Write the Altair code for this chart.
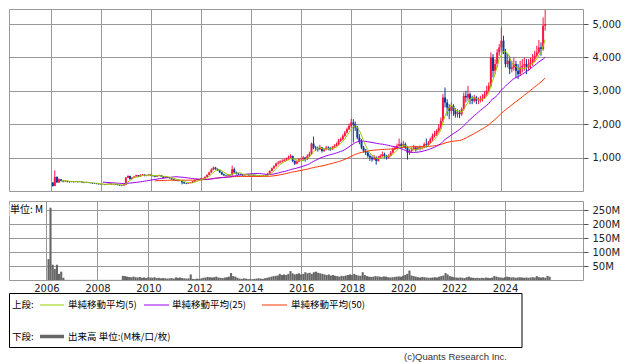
import altair as alt
import pandas as pd
import numpy as np

# ---------------- data (monthly, Jan 2006 - Sep 2025) ----------------
first_open = 250

close_vals = [
    150, 420, 260, 350, 300, 290, 300, 280, 270, 290, 270, 280,      # 2006
    270, 280, 260, 250, 260, 250, 240, 230, 225, 215, 205, 200,      # 2007
    200, 190, 210, 220, 200, 210, 195, 185, 170, 160, 190, 400,      # 2008
    450, 360, 400, 430, 470, 440, 480, 490, 460, 470, 490, 470,      # 2009
    450, 430, 460, 470, 440, 400, 420, 410, 380, 350, 330, 320,      # 2010
    300, 310, 260, 230, 220, 240, 250, 280, 330, 350, 340, 370,      # 2011
    380, 420, 480, 560, 640, 700, 660, 620, 560, 500, 470, 460,      # 2012
    480, 470, 650, 560, 520, 500, 490, 470, 480, 490, 470, 480,      # 2013
    470, 460, 450, 440, 450, 460, 470, 520, 600, 680, 740, 820,      # 2014
    850, 880, 900, 930, 950, 1000, 1050, 900, 820, 880, 950, 950,    # 2015
    1000, 950, 1050, 1100, 1420, 1300, 1280, 1250, 1300, 1200, 1250, 1300,  # 2016
    1280, 1250, 1300, 1350, 1400, 1500, 1550, 1650, 1750, 1850, 1950, 2050,  # 2017
    2000, 1900, 1600, 1500, 1300, 1200, 1150, 1050, 1000, 950, 1000, 900,    # 2018
    1000, 1050, 1100, 1050, 1000, 1050, 1150, 1250, 1300, 1350, 1400, 1350,  # 2019
    1400, 1300, 1150, 1200, 1250, 1300, 1250, 1300, 1280, 1300, 1400, 1380,  # 2020
    1450, 1550, 1650, 1700, 1800, 1900, 2100, 2800, 2650, 2500, 2400, 2550,  # 2021
    2400, 2300, 2350, 2300, 2450, 2850, 2800, 2900, 2750, 2700, 2800, 2700,  # 2022
    2700, 2750, 2800, 2900, 3000, 3150, 4000, 3600, 3800, 4150, 4300, 4500,  # 2023
    4150, 3800, 3900, 3650, 3700, 3800, 3600, 3500, 3700, 3750, 3800, 3700,  # 2024
    3800, 3850, 3950, 4050, 4150, 4300, 4250, 4950, 5000,                    # 2025
]

high_vals = [
    270, 620, 440, 380, 360, 320, 320, 310, 290, 300, 290, 300,
    290, 300, 290, 270, 280, 270, 260, 250, 240, 235, 225, 215,
    215, 210, 225, 235, 225, 220, 215, 200, 190, 175, 200, 420,
    470, 460, 420, 450, 490, 480, 500, 510, 500, 490, 510, 500,
    480, 460, 480, 490, 480, 440, 440, 430, 420, 390, 360, 340,
    330, 330, 320, 270, 240, 250, 270, 300, 340, 370, 360, 390,
    400, 440, 500, 580, 680, 730, 720, 680, 640, 580, 520, 490,
    510, 500, 760, 700, 580, 540, 520, 500, 500, 510, 500, 500,
    500, 490, 470, 470, 470, 480, 490, 540, 620, 700, 770, 850,
    900, 920, 950, 980, 1000, 1060, 1100, 1060, 920, 920, 990, 1000,
    1050, 1020, 1100, 1180, 1450, 1630, 1350, 1330, 1380, 1320, 1290, 1350,
    1340, 1320, 1350, 1400, 1450, 1560, 1600, 1700, 1800, 1900, 2020, 2160,
    2150, 2080, 1950, 1700, 1550, 1350, 1260, 1200, 1100, 1060, 1080, 1040,
    1050, 1100, 1180, 1150, 1080, 1100, 1200, 1300, 1350, 1420, 1570, 1450,
    1500, 1450, 1350, 1250, 1300, 1380, 1350, 1350, 1360, 1350, 1450, 1570,
    1500, 1600, 1720, 1800, 1850, 2000, 2200, 2900, 3100, 2750, 2600, 2650,
    2600, 2480, 2450, 2420, 2500, 2950, 3000, 3150, 2950, 2850, 2880, 2850,
    2800, 2850, 2900, 3000, 3150, 3250, 4150, 4100, 3950, 4250, 4400, 4900,
    4650, 4250, 4100, 4050, 3900, 4000, 3900, 3800, 3900, 3950, 4000, 3950,
    3950, 4000, 4100, 4200, 4350, 4520, 4450, 5200, 5420,
]

low_vals = [
    130, 150, 240, 240, 280, 260, 270, 260, 250, 260, 250, 260,
    255, 260, 245, 235, 240, 235, 225, 215, 210, 200, 190, 185,
    185, 175, 185, 200, 190, 190, 180, 170, 155, 145, 155, 185,
    390, 340, 350, 390, 420, 420, 430, 460, 440, 440, 460, 450,
    430, 410, 420, 450, 420, 380, 390, 390, 370, 340, 310, 300,
    290, 290, 200, 215, 205, 215, 235, 250, 280, 330, 320, 330,
    360, 370, 410, 470, 540, 620, 640, 600, 540, 480, 450, 440,
    450, 450, 460, 540, 490, 480, 470, 450, 455, 465, 450, 460,
    450, 440, 430, 420, 430, 440, 450, 460, 510, 590, 660, 730,
    790, 820, 850, 880, 900, 940, 980, 860, 780, 800, 860, 900,
    900, 880, 930, 1020, 1080, 1250, 1200, 1180, 1220, 1150, 1170, 1220,
    1220, 1200, 1230, 1280, 1330, 1380, 1470, 1520, 1620, 1720, 1820, 1900,
    1450, 1800, 1550, 1400, 1250, 1150, 1080, 1000, 900, 880, 920, 790,
    880, 980, 1020, 980, 940, 970, 1030, 1120, 1220, 1260, 1320, 1280,
    1300, 1250, 940, 1080, 1150, 1220, 1180, 1220, 1220, 1240, 1280, 1300,
    1350, 1420, 1500, 1600, 1650, 1750, 1850, 2050, 2500, 2250, 2150, 2300,
    2250, 2200, 2200, 2180, 2250, 2400, 2650, 2700, 2600, 2600, 2650, 2600,
    2600, 2650, 2680, 2750, 2850, 2950, 3100, 3400, 3500, 3700, 4050, 4200,
    4100, 3700, 3700, 3500, 3550, 3600, 3400, 3350, 3450, 3550, 3600, 3500,
    3600, 3650, 3750, 3850, 4000, 4100, 4050, 4200, 4800,
]

volume_m = [
    75, 260, 55, 40, 55, 22, 30, 8, 0.5, 0.5, 0.4, 0.4,
    0.4, 0.4, 0.4, 0.4, 0.4, 0.4, 0.4, 0.4, 0.4, 0.4, 0.4, 0.4,
    0.4, 0.4, 0.4, 0.4, 0.4, 0.4, 0.4, 0.4, 0.4, 0.4, 0.4, 15,
    14, 12, 11, 10, 12, 10, 9, 11, 8, 9, 7, 10,
    9, 8, 10, 7, 8, 6, 7, 6, 5, 6, 7, 5,
    9, 8, 9, 7, 6, 5, 6, 20, 4, 3, 5, 4,
    6, 8, 9, 11, 10, 9, 10, 12, 9, 8, 7, 9,
    10, 12, 25, 14, 12, 8, 5, 4, 6, 5, 3, 4,
    3, 4, 5, 6, 5, 4, 6, 8, 10, 12, 14, 15,
    16, 22, 18, 20, 18, 22, 32, 24, 20, 22, 24, 20,
    22, 28, 24, 26, 22, 28, 30, 26, 24, 22, 20, 18,
    20, 16, 18, 15, 14, 12, 15, 14, 16, 18, 20, 18,
    22, 18, 16, 15, 28, 18, 14, 12, 11, 12, 14, 13,
    12, 11, 13, 12, 10, 9, 10, 11, 12, 13, 12, 15,
    18, 22, 34, 16, 14, 12, 10, 9, 11, 10, 9, 8,
    8, 9, 10, 9, 12, 14, 16, 25, 20, 14, 12, 10,
    9, 8, 9, 8, 7, 10, 12, 9, 8, 7, 8, 7,
    8, 7, 9, 8, 7, 9, 14, 12, 10, 9, 8, 10,
    12, 11, 9, 10, 8, 9, 10, 9, 8, 9, 8, 9,
    10, 9, 14, 10, 9, 10, 8, 15, 12,
]

year_ticks = [2006, 2008, 2010, 2012, 2014, 2016, 2018, 2020, 2022, 2024]
price_ticks = [1000, 2000, 3000, 4000, 5000]
volume_ticks = [50, 100, 150, 200, 250]
ma_windows = [5, 25, 50]
ma_labels = ["単純移動平均(5)", "単純移動平均(25)", "単純移動平均(50)"]
ma_colors = ["#99cc00", "#9900ee", "#ff3300"]

# ---------------- table ----------------
n = len(close_vals)
dates = pd.date_range("2006-02-01", periods=n, freq="MS") - pd.Timedelta(days=1)
df = pd.DataFrame({
    "date": dates,
    "open": [first_open] + close_vals[:-1],
    "close": close_vals,
    "high": high_vals,
    "low": low_vals,
    "volume": volume_m,
})
df["high"] = df[["high", "open", "close"]].max(axis=1)
df["low"] = df[["low", "open", "close"]].min(axis=1)
df["dir"] = np.where(df["close"] >= df["open"], "up", "down")
df["v0"] = df["date"] - pd.Timedelta(days=15)
df["v1"] = df["date"] + pd.Timedelta(days=15)
df["zero"] = 0

ma_frames = []
for w in ma_windows:
    d = pd.DataFrame({"date": df["date"], "ma": df["close"].rolling(w).mean(), "series": f"ma{w}"})
    ma_frames.append(d.dropna())

x_domain = [alt.DateTime(year=2004, month=7, date=13), alt.DateTime(year=2027, month=1, date=22)]
x_values = [alt.DateTime(year=y, month=1, date=1) for y in year_ticks]
W = 574

FONT = "DejaVu Sans"
JP = "Noto Sans CJK JP"

x_price = alt.X("date:T", scale=alt.Scale(domain=x_domain),
                axis=alt.Axis(values=x_values, labels=False, ticks=False, domain=False,
                              grid=True, title=None, minExtent=0, maxExtent=0))
y_price_scale = alt.Scale(domain=[0, 5450], nice=False)
dir_color = alt.Color("dir:N", scale=alt.Scale(domain=["up", "down"], range=["#ff1443", "#0b3c96"]),
                      legend=None)

base = alt.Chart(df)
wicks = base.mark_rule(strokeWidth=1).encode(
    x=x_price,
    y=alt.Y("low:Q", scale=y_price_scale,
            axis=alt.Axis(orient="right", values=price_ticks, format=",.0f", tickSize=5,
                          labelPadding=4, domain=False, grid=True, title=None)),
    y2="high:Q",
    color=dir_color,
)
bodies = base.mark_bar(width=2).encode(
    x="date:T",
    y=alt.Y("open:Q", scale=y_price_scale),
    y2="close:Q",
    color=dir_color,
)
ma_layers = []
for frame, col in zip(ma_frames[::-1], ma_colors[::-1]):
    ma_layers.append(
        alt.Chart(frame).mark_line(strokeWidth=1, color=col).encode(
            x="date:T", y=alt.Y("ma:Q", scale=y_price_scale)
        )
    )

price = alt.layer(wicks, bodies, *ma_layers).properties(width=W, height=182)

# ---------------- volume panel (with legend box below it) ----------------
vol_bars = base.mark_rect(color="#666666").encode(
    x=alt.X("v0:T", scale=alt.Scale(domain=x_domain),
            axis=alt.Axis(values=x_values, format="%Y", ticks=False, domain=False, grid=True,
                          title=None, labelPadding=3)),
    x2="v1:T",
    y=alt.Y("volume:Q", scale=alt.Scale(domain=[0, 284], nice=False),
            axis=alt.Axis(orient="right", values=volume_ticks, labelExpr="datum.value + 'M'",
                          tickSize=5, labelPadding=4, domain=False, grid=True, title=None)),
    y2="zero:Q",
)

one = pd.DataFrame({"k": [0]})
unit_bg = alt.Chart(one).mark_rect(color="white").encode(
    x=alt.value(0.5), x2=alt.value(37), y=alt.value(3), y2=alt.value(15))
unit_txt = alt.Chart(one).mark_text(text="単位: M", align="left", baseline="middle",
                                    font=JP, fontSize=10, color="#000").encode(
    x=alt.value(1), y=alt.value(9))

legend_box = alt.Chart(one).mark_rect(fillOpacity=0, stroke="#000", strokeWidth=1).encode(
    x=alt.value(0.5), x2=alt.value(513), y=alt.value(92.5), y2=alt.value(146.5))

leg_layers = [legend_box]
row1 = 104
row2 = 135.5
leg_layers.append(alt.Chart(one).mark_text(text="上段:", align="left", baseline="middle",
                                           font=JP, fontSize=9.5, color="#000").encode(
    x=alt.value(3), y=alt.value(row1)))
leg_layers.append(alt.Chart(one).mark_text(text="下段:", align="left", baseline="middle",
                                           font=JP, fontSize=9.5, color="#000").encode(
    x=alt.value(3), y=alt.value(row2)))
line_x = [(31, 55), (135, 160), (253, 278)]
text_x = [59, 163, 282]
for (a, b), tx, lab, col in zip(line_x, text_x, ma_labels, ma_colors):
    leg_layers.append(alt.Chart(one).mark_rule(color=col, strokeWidth=1).encode(
        x=alt.value(a), x2=alt.value(b), y=alt.value(row1)))
    leg_layers.append(alt.Chart(one).mark_text(text=lab, align="left", baseline="middle",
                                               font=JP, fontSize=9.5, color="#000").encode(
        x=alt.value(tx), y=alt.value(row1)))
leg_layers.append(alt.Chart(one).mark_rule(color="#666666", strokeWidth=3.5).encode(
    x=alt.value(31), x2=alt.value(55), y=alt.value(row2)))
leg_layers.append(alt.Chart(one).mark_text(text="出来高 単位:(M株/口/枚)", align="left",
                                           baseline="middle", font=JP, fontSize=9.5,
                                           color="#000").encode(
    x=alt.value(59), y=alt.value(row2)))
leg_layers.append(alt.Chart(one).mark_text(text="(c)Quants Research Inc.", align="right",
                                           baseline="alphabetic", font="Liberation Sans",
                                           fontSize=9.5, color="#333").encode(
    x=alt.value(498), y=alt.value(159)))

volume = alt.layer(vol_bars, unit_bg, unit_txt, *leg_layers).properties(width=W, height=79)

chart = alt.vconcat(price, volume, spacing=8).properties(
    padding={"left": 0, "top": 0, "right": 0, "bottom": 0}
).configure_view(
    stroke="#999999", strokeWidth=1
).configure_axis(
    gridColor="#999999", gridWidth=1, gridOpacity=1, tickColor="#555555",
    labelFont=FONT, labelFontSize=10, labelColor="#222222"
)

chart.save("out.html", embed_options={"renderer": "svg", "actions": False})
